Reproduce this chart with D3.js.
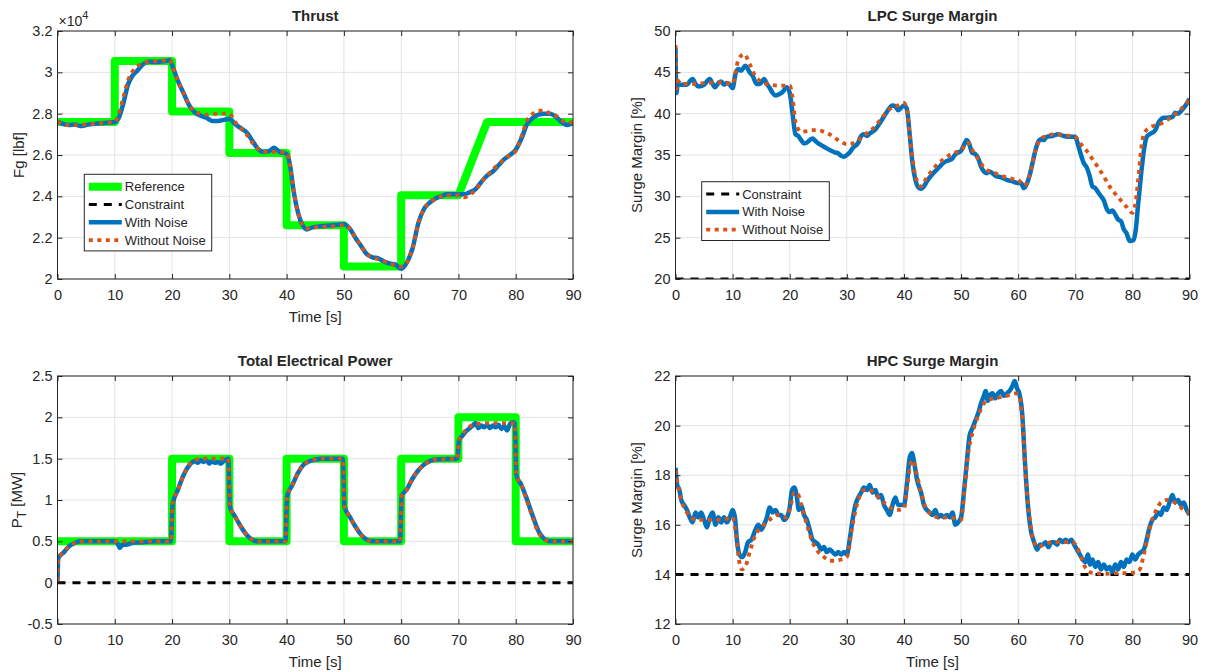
<!DOCTYPE html>
<html>
<head>
<meta charset="utf-8">
<script src="https://cdn.jsdelivr.net/npm/d3@7"></script>
<style>
    body { margin: 0; background: #fff; }
    text { font-family: "Liberation Sans", Arial, Helvetica, sans-serif; fill: #262626; }
</style>
</head>
<body>
<div id="chart"></div>
<script>

// ---- data: [time (s), value] ----
const timeTicks = [0, 10, 20, 30, 40, 50, 60, 70, 80, 90];
const thrustTicks = [2, 2.2, 2.4, 2.6, 2.8, 3, 3.2];
const lpcTicks = [20, 25, 30, 35, 40, 45, 50];
const powerTicks = [-0.5, 0, 0.5, 1, 1.5, 2, 2.5];
const hpcTicks = [12, 14, 16, 18, 20, 22];

// thrust in units of 1e4 lbf
const thrustRef = [[0, 2.76], [10, 2.76], [10, 3.055], [20, 3.055], [20, 2.81], [30, 2.81], [30, 2.61], [40, 2.61],
    [40, 2.26], [50, 2.26], [50, 2.06], [60, 2.06], [60, 2.405], [70, 2.405], [75, 2.76], [90, 2.76]];
const thrustNoise = [[0, 2.762], [1, 2.75], [2, 2.745], [3, 2.748], [4, 2.74], [5, 2.745], [6, 2.75], [7, 2.752], [8, 2.755],
    [9, 2.757], [10, 2.76], [10.7, 2.78], [11.5, 2.85], [12.3, 2.94], [13, 2.98], [14, 3.01], [15, 3.04], [16, 3.052],
    [17, 3.05], [18, 3.052], [19, 3.055], [19.6, 3.06], [20.2, 3.02], [21, 2.96], [22, 2.9], [23, 2.84], [24, 2.805],
    [25, 2.79], [26, 2.78], [27, 2.765], [28, 2.765], [29, 2.77], [30, 2.775], [31, 2.75], [32, 2.73], [33, 2.71],
    [34, 2.67], [35, 2.63], [36, 2.615], [37, 2.62], [37.8, 2.635], [38.8, 2.615], [40, 2.605], [40.6, 2.55],
    [41.2, 2.43], [42, 2.32], [42.8, 2.26], [43.5, 2.24], [44.5, 2.25], [46, 2.255], [48, 2.26], [50, 2.265],
    [51, 2.245], [52, 2.2], [53, 2.16], [54, 2.12], [55, 2.105], [56, 2.1], [57, 2.085], [58, 2.075], [59, 2.07],
    [60, 2.05], [61, 2.08], [62, 2.15], [63, 2.27], [64, 2.34], [65, 2.37], [66, 2.39], [67, 2.4], [68, 2.41],
    [69, 2.41], [70, 2.41], [71, 2.41], [72, 2.42], [73, 2.435], [74, 2.47], [75, 2.5], [76, 2.52], [77, 2.55],
    [78, 2.58], [79, 2.6], [80, 2.625], [81, 2.68], [82, 2.75], [83, 2.78], [84, 2.795], [85, 2.8], [86, 2.8],
    [87, 2.785], [88, 2.76], [89, 2.745], [90, 2.755]];
const thrustClean = [[0, 2.762], [1, 2.748], [2, 2.745], [3, 2.745], [4, 2.745], [5, 2.748], [6, 2.75], [8, 2.755],
    [10, 2.76], [10.7, 2.8], [11.5, 2.88], [12.3, 2.96], [13, 3.0], [14, 3.03], [15, 3.045], [16, 3.052], [18, 3.055],
    [19.6, 3.06], [20.2, 3.02], [21, 2.96], [22, 2.9], [23, 2.84], [24, 2.81], [25, 2.8], [26, 2.795], [28, 2.8],
    [30, 2.8], [31, 2.76], [32, 2.73], [33, 2.7], [34, 2.66], [35, 2.63], [36, 2.615], [38, 2.615], [40, 2.61],
    [40.6, 2.55], [41.2, 2.43], [42, 2.32], [42.8, 2.26], [43.5, 2.245], [45, 2.25], [48, 2.255], [50, 2.26],
    [51, 2.245], [52, 2.2], [53, 2.16], [54, 2.12], [55, 2.105], [56, 2.095], [58, 2.075], [60, 2.06], [61, 2.08],
    [62, 2.15], [63, 2.27], [64, 2.34], [65, 2.37], [66, 2.39], [67, 2.4], [68, 2.405], [70, 2.405], [71, 2.395],
    [72, 2.41], [73, 2.43], [74, 2.47], [75, 2.5], [76, 2.53], [77, 2.555], [78, 2.58], [79, 2.6], [80, 2.62],
    [81, 2.69], [82, 2.77], [83, 2.8], [84, 2.815], [85, 2.815], [86, 2.8], [87, 2.79], [88, 2.77], [89, 2.755],
    [90, 2.76]];

const lpcConstraint = [[0, 20], [90, 20]];
const lpcNoise = [[0, 48], [0.15, 42.5], [0.4, 43.6], [1, 43.5], [2, 43.5], [2.5, 43.9], [3, 44.2], [3.5, 43.6],
    [4, 43.3], [5, 43.5], [5.5, 43.9], [6, 44.2], [6.5, 43.6], [6.9, 43.2], [7.5, 43.7], [8, 43.9], [8.5, 43.5],
    [9, 43.7], [9.5, 43.5], [10, 43.1], [10.5, 44.8], [11, 45.4], [11.5, 45.2], [12.2, 45.8], [13, 45.0], [13.5, 44.6],
    [14.2, 43.6], [14.8, 43.6], [15.5, 44.2], [16, 43.6], [16.5, 43.1], [17, 42.5], [17.5, 42.2], [18, 42.3],
    [18.7, 42.6], [19.5, 43.2], [20, 42.5], [20.5, 40.0], [21, 37.5], [21.5, 37.3], [22, 36.8], [22.5, 36.4],
    [23, 36.5], [23.5, 36.8], [24, 37.0], [24.5, 36.7], [25, 36.4], [25.5, 36.2], [26, 36.0], [27, 35.6], [28, 35.3],
    [28.5, 35.2], [29, 34.9], [29.5, 34.8], [30, 35.0], [30.5, 35.3], [31, 35.8], [32, 36.5], [32.5, 37.3], [33, 37.5],
    [33.5, 37.3], [34, 37.6], [35, 38.1], [36, 39.1], [37, 40.2], [38, 41.0], [38.5, 40.9], [39, 40.4], [39.5, 40.7],
    [40, 41.0], [40.5, 40.6], [41, 37.5], [41.5, 34.0], [42, 32.0], [42.5, 31.1], [43, 30.9], [43.5, 31.2], [44, 31.8],
    [45, 32.7], [46, 33.4], [47, 34.1], [48, 34.4], [48.5, 34.6], [49, 35.1], [50, 35.5], [50.5, 36.2], [51, 36.8],
    [51.5, 36.2], [51.9, 35.3], [52.5, 35.1], [53, 34.6], [53.5, 33.6], [54, 33.0], [54.5, 32.8], [55, 33.0],
    [56, 32.5], [57, 32.3], [58, 32.0], [59, 31.8], [60, 31.6], [60.5, 31.6], [61, 31.0], [61.5, 31.5], [62, 32.5],
    [62.5, 34.0], [63, 35.5], [63.5, 36.6], [64, 36.9], [64.5, 36.8], [65, 37.2], [66, 37.3], [67, 37.5], [68, 37.3],
    [69, 37.2], [70, 37.2], [70.5, 36.2], [71, 35.0], [71.5, 34.0], [72, 33.5], [72.5, 32.5], [73, 31.2], [73.5, 31.0],
    [74, 30.5], [74.5, 30.0], [75, 29.5], [75.5, 28.5], [76, 28.1], [76.5, 28.3], [77, 27.8], [77.5, 27.2], [78, 27.0],
    [78.5, 26.0], [79, 25.5], [79.5, 24.6], [80.2, 24.7], [80.6, 26.0], [81, 29.0], [81.5, 32.5], [82, 35.5],
    [82.5, 37.2], [83, 37.5], [84, 38.0], [84.5, 38.8], [85, 39.3], [85.5, 39.5], [86, 39.5], [87, 39.6], [87.5, 40.1],
    [88, 40.0], [88.5, 40.3], [89, 40.7], [89.5, 41.2], [90, 41.8]];
const lpcClean = [[0, 48.3], [0.15, 43], [0.4, 44.0], [1, 43.6], [3, 43.6], [5, 43.7], [8, 43.8], [10, 43.6],
    [10.5, 45.0], [11, 46.5], [12, 47.2], [13, 46.0], [14, 44.5], [15, 43.9], [16, 43.6], [18, 43.4], [20, 43.4],
    [20.5, 42.0], [21, 39.0], [22, 37.8], [23, 37.9], [24, 38.0], [25, 38.0], [26, 37.8], [27, 37.5], [28, 37.0],
    [29, 36.6], [30, 36.3], [31, 36.4], [32, 36.8], [33, 37.4], [34, 37.9], [35, 38.5], [36, 39.4], [37, 40.2],
    [38, 40.8], [39, 41.0], [40, 41.3], [40.5, 40.5], [41, 37.5], [41.5, 34.5], [42, 32.5], [42.5, 31.5], [43, 31.2],
    [44, 32.3], [45, 33.2], [46, 34.0], [47, 34.5], [48, 35.0], [49, 35.3], [50, 35.5], [51, 36.5], [51.5, 36.3],
    [52, 35.6], [53, 34.5], [54, 33.5], [55, 33.0], [56, 32.8], [57, 32.5], [58, 32.3], [59, 32.1], [60, 32.0],
    [61, 31.3], [61.5, 31.6], [62, 32.5], [63, 35.5], [64, 37.0], [65, 37.3], [66, 37.5], [67, 37.5], [68, 37.4],
    [69, 37.3], [70, 37.2], [71, 36.3], [72, 35.5], [73, 34.5], [74, 33.5], [75, 32.4], [76, 31.2], [77, 30.3],
    [78, 29.5], [79, 28.7], [80, 28.0], [80.5, 29.0], [81, 32.0], [81.5, 35.5], [82, 37.5], [83, 38.3], [84, 38.6],
    [85, 38.8], [86, 39.2], [87, 39.7], [88, 40.2], [89, 40.9], [90, 41.6]];

const powerRef = [[0, 0.5], [20, 0.5], [20, 1.5], [30, 1.5], [30, 0.5], [40, 0.5], [40, 1.5], [50, 1.5], [50, 0.5],
    [60, 0.5], [60, 1.5], [70, 1.5], [70, 2], [80, 2], [80, 0.5], [90, 0.5]];
const powerConstraint = [[0, 0], [90, 0]];
const powerNoise = [[0, 0.02], [0.15, 0.3], [0.5, 0.33], [1, 0.36], [1.5, 0.4], [2, 0.44], [3, 0.48], [4, 0.5],
    [6, 0.5], [8, 0.5], [10, 0.5], [10.5, 0.47], [10.9, 0.42], [11.3, 0.46], [12, 0.46], [13, 0.48], [15, 0.49],
    [17, 0.5], [19.8, 0.5], [20.1, 0.95], [21, 1.12], [22, 1.3], [23, 1.42], [24, 1.47], [24.5, 1.45], [25, 1.48],
    [25.5, 1.46], [26, 1.48], [26.5, 1.44], [27, 1.47], [27.5, 1.45], [28, 1.46], [28.5, 1.44], [29, 1.47],
    [29.8, 1.5], [30.1, 0.92], [31, 0.8], [32, 0.68], [33, 0.58], [34, 0.52], [35, 0.5], [39.8, 0.5], [40.1, 1.05],
    [41, 1.18], [42, 1.33], [43, 1.43], [44, 1.47], [45, 1.49], [46, 1.5], [49.8, 1.5], [50.1, 0.92], [51, 0.8],
    [52, 0.68], [53, 0.58], [54, 0.52], [55, 0.5], [59.8, 0.5], [60.1, 1.05], [61, 1.13], [62, 1.26], [63, 1.36],
    [64, 1.43], [65, 1.47], [66, 1.49], [69.8, 1.5], [70.1, 1.72], [70.7, 1.78], [71.3, 1.83], [72, 1.87],
    [72.5, 1.9], [73, 1.93], [73.5, 1.87], [74, 1.9], [74.5, 1.88], [75, 1.91], [75.5, 1.87], [76, 1.9], [76.5, 1.88],
    [77, 1.91], [77.5, 1.86], [78, 1.89], [78.5, 1.84], [79, 1.92], [79.5, 1.94], [79.85, 1.93], [80.1, 1.3],
    [81, 1.18], [82, 1.0], [83, 0.8], [84, 0.62], [85, 0.53], [86, 0.5], [88, 0.5], [90, 0.5]];
const powerClean = [[0, 0.02], [0.15, 0.3], [0.5, 0.33], [1, 0.37], [2, 0.44], [3, 0.48], [4, 0.5], [19.8, 0.5],
    [20.1, 0.95], [21, 1.12], [22, 1.3], [23, 1.43], [24, 1.48], [25, 1.5], [29.8, 1.5], [30.1, 0.92], [31, 0.8],
    [32, 0.68], [33, 0.58], [34, 0.52], [35, 0.5], [39.8, 0.5], [40.1, 1.05], [41, 1.18], [42, 1.33], [43, 1.43],
    [44, 1.47], [45, 1.49], [46, 1.5], [49.8, 1.5], [50.1, 0.92], [51, 0.8], [52, 0.68], [53, 0.58], [54, 0.52],
    [55, 0.5], [59.8, 0.5], [60.1, 1.05], [61, 1.13], [62, 1.26], [63, 1.36], [64, 1.43], [65, 1.47], [66, 1.49],
    [69.8, 1.5], [70.1, 1.72], [70.7, 1.79], [71.3, 1.85], [72, 1.89], [73, 1.92], [75, 1.93], [77, 1.93],
    [79.85, 1.93], [80.1, 1.3], [81, 1.18], [82, 0.98], [83, 0.78], [84, 0.6], [85, 0.52], [86, 0.5], [90, 0.5]];

const hpcConstraint = [[0, 14], [90, 14]];
const hpcNoise = [[0, 18.3], [0.3, 17.6], [0.7, 17.4], [1, 17.0], [1.5, 16.8], [2, 16.6], [2.5, 16.3], [3, 16.1],
    [3.5, 16.5], [4, 16.3], [4.5, 16.5], [5, 16.2], [5.5, 15.9], [6, 16.3], [6.5, 16.5], [7, 16.0], [7.5, 16.3],
    [8, 16.1], [8.5, 16.3], [9, 16.1], [9.5, 16.3], [10, 16.6], [10.4, 16.3], [10.8, 15.3], [11.2, 14.8],
    [11.7, 14.7], [12.2, 14.9], [12.7, 15.3], [13.3, 15.4], [14, 15.8], [14.5, 16.0], [15, 15.8], [15.5, 16.0],
    [16, 16.3], [16.5, 16.7], [17, 16.5], [17.5, 16.6], [18, 16.4], [18.5, 16.4], [19, 16.2], [19.5, 16.3],
    [20, 16.7], [20.4, 17.4], [20.8, 17.5], [21.2, 17.2], [21.6, 16.6], [22, 16.8], [22.5, 16.4], [23, 16.2],
    [23.5, 15.8], [24, 15.4], [24.5, 15.3], [25, 15.2], [25.5, 15.0], [26, 15.1], [26.5, 14.9], [27, 15.0],
    [27.5, 14.9], [28, 14.8], [28.5, 14.9], [29, 14.8], [29.5, 14.9], [30, 14.8], [30.5, 15.4], [31, 16.2],
    [31.5, 16.8], [32, 17.1], [32.5, 17.3], [33, 17.5], [33.5, 17.4], [34, 17.6], [34.5, 17.3], [35, 17.4],
    [35.5, 17.1], [36, 17.2], [36.5, 16.8], [37, 16.6], [37.5, 16.4], [38, 16.8], [38.5, 17.1], [39, 16.8],
    [39.5, 16.8], [40, 16.8], [40.5, 17.6], [41, 18.7], [41.4, 18.9], [41.8, 18.5], [42.3, 17.8], [43, 17.3],
    [43.5, 16.8], [44, 16.6], [44.5, 16.5], [45, 16.4], [45.5, 16.6], [46, 16.3], [46.5, 16.4], [47, 16.3],
    [47.5, 16.4], [48, 16.3], [48.5, 16.5], [49, 16.0], [49.5, 16.1], [50, 16.3], [50.5, 17.3], [51, 18.5],
    [51.5, 19.6], [52, 19.9], [52.5, 20.2], [53, 20.5], [53.5, 20.9], [54, 21.2], [54.3, 21.4], [54.7, 21.0],
    [55, 21.2], [55.5, 21.3], [56, 21.1], [56.5, 21.3], [57, 21.4], [57.5, 21.2], [58, 21.3], [58.5, 21.4],
    [59, 21.6], [59.4, 21.8], [59.8, 21.5], [60.2, 21.3], [60.7, 20.5], [61.2, 18.5], [61.7, 16.8], [62.2, 15.8],
    [62.8, 15.3], [63.3, 15.0], [63.8, 15.2], [64.3, 15.2], [64.8, 15.3], [65.3, 15.1], [65.8, 15.3], [66.3, 15.3],
    [66.8, 15.2], [67.3, 15.4], [67.8, 15.3], [68.3, 15.4], [68.8, 15.3], [69.3, 15.4], [69.8, 15.2], [70.3, 15.0],
    [70.8, 14.8], [71.3, 14.6], [71.8, 14.5], [72.2, 14.8], [72.6, 14.4], [73, 14.6], [73.5, 14.3], [74, 14.5],
    [74.5, 14.2], [75, 14.4], [75.5, 14.2], [76, 14.3], [76.5, 14.1], [77, 14.4], [77.5, 14.2], [78, 14.5],
    [78.5, 14.3], [79, 14.6], [79.5, 14.5], [80, 14.8], [80.5, 14.6], [81, 14.8], [81.5, 14.9], [82, 15.0],
    [82.5, 15.4], [83, 15.9], [83.5, 16.2], [84, 16.3], [84.5, 16.5], [85, 16.4], [85.5, 16.7], [86, 16.6],
    [86.5, 16.9], [87, 17.2], [87.5, 16.9], [88, 17.0], [88.5, 16.8], [89, 16.9], [89.5, 16.6], [90, 16.4]];
const hpcClean = [[0, 18.2], [0.5, 17.5], [1, 17.0], [2, 16.5], [3, 16.25], [4, 16.2], [6, 16.2], [8, 16.2],
    [10, 16.3], [10.6, 15.6], [11.1, 14.6], [11.6, 14.2], [12.2, 14.3], [13, 14.9], [14, 15.6], [15, 15.9], [16, 16.1],
    [17, 16.3], [18, 16.4], [19.5, 16.3], [20.2, 16.8], [20.8, 17.3], [21.3, 17.3], [22, 16.8], [23, 16.0], [24, 15.3],
    [25, 14.9], [26, 14.7], [27, 14.55], [28, 14.55], [29, 14.6], [30, 14.7], [31, 16.0], [32, 17.0], [33, 17.4],
    [34, 17.4], [35, 17.25], [36, 17.0], [37, 16.8], [38, 16.65], [39, 16.6], [40, 16.65], [40.6, 17.6], [41.2, 18.5],
    [41.6, 18.6], [42.2, 18.1], [43, 17.3], [44, 16.6], [45, 16.4], [46, 16.3], [48, 16.3], [50, 16.2], [50.6, 17.4],
    [51.2, 18.8], [52, 19.7], [53, 20.4], [54, 20.9], [55, 21.05], [56, 21.1], [58, 21.2], [59.5, 21.3], [60.2, 21.2],
    [60.8, 20.0], [61.3, 18.0], [62, 16.3], [62.8, 15.3], [63.5, 15.1], [64.5, 15.2], [66, 15.3], [68, 15.3],
    [69.5, 15.3], [70.3, 15.1], [71, 14.7], [71.7, 14.3], [72.5, 14.1], [73.5, 14.05], [75, 14.02], [77, 14.05],
    [79, 14.05], [80.5, 14.08], [81.3, 14.2], [82, 14.8], [82.7, 15.5], [83.3, 16.1], [84, 16.5], [85, 16.9],
    [86, 17.0], [87, 16.95], [88, 16.8], [89, 16.6], [90, 16.5]];

// ---- drawing ----
const styles = {
    ref: {label: "Reference", color: "#00ff00", width: 8, dash: null, curve: d3.curveLinear},
    cons: {label: "Constraint", color: "#000000", width: 3, dash: "8,7", curve: d3.curveLinear},
    noise: {label: "With Noise", color: "#0072bd", width: 4.5, dash: null, curve: d3.curveMonotoneX},
    clean: {label: "Without Noise", color: "#d95319", width: 3.8, dash: "4,4.5", curve: d3.curveMonotoneX}
};

class TimePanel {

    constructor(svg, cfg, id) {
        this.svg = svg;
        this.cfg = cfg;
        this.id = id;
        this.initVis();
    }

    initVis() {
        let vis = this;
        let c = vis.cfg;

        vis.g = vis.svg.append("g")
            .attr("transform", "translate(" + c.left + "," + c.top + ")");

        vis.x = d3.scaleLinear().domain([0, 90]).range([0, c.width]);
        vis.y = d3.scaleLinear().domain([c.yTicks[0], c.yTicks[c.yTicks.length - 1]]).range([c.height, 0]);

        // grid
        vis.g.append("g").selectAll("line")
            .data(timeTicks)
            .enter().append("line")
            .attr("x1", d => vis.x(d)).attr("x2", d => vis.x(d))
            .attr("y1", 0).attr("y2", c.height)
            .attr("stroke", "#e3e3e3").attr("stroke-width", 1);
        vis.g.append("g").selectAll("line")
            .data(c.yTicks)
            .enter().append("line")
            .attr("x1", 0).attr("x2", c.width)
            .attr("y1", d => vis.y(d)).attr("y2", d => vis.y(d))
            .attr("stroke", "#e3e3e3").attr("stroke-width", 1);

        // lines, clipped to the axes box
        vis.svg.append("clipPath").attr("id", "clip" + vis.id)
            .append("rect").attr("width", c.width).attr("height", c.height);

        let plot = vis.g.append("g").attr("clip-path", "url(#clip" + vis.id + ")");
        c.series.forEach(s => {
            let st = styles[s.style];
            let line = d3.line()
                .x(d => vis.x(d[0]))
                .y(d => vis.y(d[1]))
                .curve(st.curve);
            plot.append("path")
                .datum(s.data)
                .attr("d", line)
                .attr("fill", "none")
                .attr("stroke", st.color)
                .attr("stroke-width", st.width)
                .attr("stroke-dasharray", st.dash)
                .attr("stroke-linejoin", "round");
        });

        // axes
        let fmt = d => String(d);
        let bottom = vis.g.append("g")
            .attr("transform", "translate(0," + c.height + ")")
            .call(d3.axisBottom(vis.x).tickValues(timeTicks).tickFormat(fmt).tickSizeInner(-5).tickSizeOuter(0).tickPadding(10.5));
        let left = vis.g.append("g")
            .call(d3.axisLeft(vis.y).tickValues(c.yTicks).tickFormat(fmt).tickSizeInner(-5).tickSizeOuter(0).tickPadding(5));
        let top = vis.g.append("g")
            .call(d3.axisTop(vis.x).tickValues(timeTicks).tickFormat("").tickSizeInner(-5).tickSizeOuter(0));
        let right = vis.g.append("g")
            .attr("transform", "translate(" + c.width + ",0)")
            .call(d3.axisRight(vis.y).tickValues(c.yTicks).tickFormat("").tickSizeInner(-5).tickSizeOuter(0));

        [bottom, left, top, right].forEach(a => {
            a.select(".domain").remove();
            a.selectAll(".tick line").attr("stroke", "#262626");
            a.selectAll("text")
                .style("font-family", "'Liberation Sans', Arial, sans-serif")
                .style("font-size", "14.5px")
                .attr("fill", "#262626");
        });

        vis.g.append("rect")
            .attr("width", c.width).attr("height", c.height)
            .attr("fill", "none").attr("stroke", "#262626").attr("stroke-width", 1);

        // title
        vis.g.append("text")
            .attr("x", c.width / 2).attr("y", -10)
            .attr("text-anchor", "middle")
            .style("font-size", "15px").style("font-weight", "bold")
            .attr("fill", "#000")
            .text(c.title);

        // y label
        let yl = vis.g.append("text")
            .attr("transform", "translate(" + c.yLabelX + "," + (c.height / 2) + ") rotate(-90)")
            .attr("text-anchor", "middle")
            .style("font-size", "15px");
        if (c.yLabelSub) {
            yl.append("tspan").text(c.yLabel);
            yl.append("tspan").attr("dy", 4).style("font-size", "12px").text(c.yLabelSub);
            yl.append("tspan").attr("dy", -4).text(" " + c.yLabelRest);
        } else {
            yl.text(c.yLabel);
        }

        // x label
        if (c.xLabel) {
            vis.g.append("text")
                .attr("x", c.width / 2).attr("y", c.height + 43)
                .attr("text-anchor", "middle")
                .style("font-size", "15px")
                .text("Time [s]");
        }

        // exponent
        if (c.exponent) {
            let ex = vis.g.append("text")
                .attr("x", 1).attr("y", -5)
                .style("font-size", "14px");
            ex.append("tspan").text("\u00d710");
            ex.append("tspan").attr("dy", -7).style("font-size", "11px").text(c.exponent);
        }

        // legend
        if (c.legend) {
            let L = c.legend;
            let rowH = 17.8;
            let h = 12.4 + (L.entries.length - 1) * rowH + 10.8;
            let lg = vis.g.append("g").attr("transform", "translate(" + L.x + "," + L.y + ")");
            lg.append("rect")
                .attr("width", L.width).attr("height", h)
                .attr("fill", "#fff").attr("stroke", "#262626").attr("stroke-width", 1);
            L.entries.forEach((e, i) => {
                let st = styles[e];
                let yy = 12.4 + i * rowH;
                lg.append("line")
                    .attr("x1", 4.5).attr("x2", 37.5)
                    .attr("y1", yy).attr("y2", yy)
                    .attr("stroke", st.color)
                    .attr("stroke-width", st.width)
                    .attr("stroke-dasharray", st.dash);
                lg.append("text")
                    .attr("x", 40.5).attr("y", yy).attr("dy", "0.35em")
                    .style("font-size", "13px")
                    .text(st.label);
            });
        }
    }
}

const panels = [
    {
        title: "Thrust", left: 57.5, top: 31, width: 515.5, height: 248,
        yTicks: thrustTicks, yLabel: "Fg [lbf]", yLabelX: -34, xLabel: true, exponent: "4",
        series: [{data: thrustRef, style: "ref"}, {data: thrustNoise, style: "noise"}, {data: thrustClean, style: "clean"}],
        legend: {x: 26.8, y: 143.3, width: 127.4, entries: ["ref", "cons", "noise", "clean"]}
    },
    {
        title: "LPC Surge Margin", left: 675.5, top: 31, width: 514, height: 248,
        yTicks: lpcTicks, yLabel: "Surge Margin [%]", yLabelX: -34, xLabel: false,
        series: [{data: lpcConstraint, style: "cons"}, {data: lpcNoise, style: "noise"}, {data: lpcClean, style: "clean"}],
        legend: {x: 26.2, y: 150.7, width: 127.6, entries: ["cons", "noise", "clean"]}
    },
    {
        title: "Total Electrical Power", left: 57.5, top: 376, width: 515.5, height: 248,
        yTicks: powerTicks, yLabel: "P", yLabelSub: "T", yLabelRest: "[MW]", yLabelX: -36, xLabel: true,
        series: [{data: powerRef, style: "ref"}, {data: powerConstraint, style: "cons"}, {data: powerNoise, style: "noise"}, {data: powerClean, style: "clean"}]
    },
    {
        title: "HPC Surge Margin", left: 675.5, top: 376, width: 514, height: 248,
        yTicks: hpcTicks, yLabel: "Surge Margin [%]", yLabelX: -34, xLabel: true,
        series: [{data: hpcConstraint, style: "cons"}, {data: hpcNoise, style: "noise"}, {data: hpcClean, style: "clean"}]
    }
];

let svg = d3.select("#chart").append("svg")
    .attr("width", 1207)
    .attr("height", 672)
    .style("background", "#fff");

panels.forEach((p, i) => new TimePanel(svg, p, i));

</script>
</body>
</html>
